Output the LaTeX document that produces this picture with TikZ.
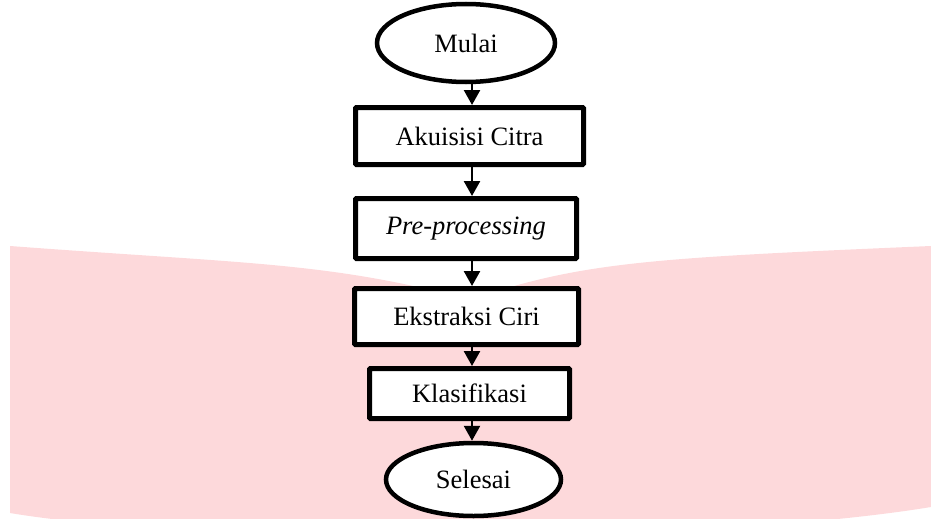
\documentclass[tikz,border=0pt]{standalone}
\usepackage{fontspec}
\setmainfont{Liberation Serif}
\usetikzlibrary{arrows.meta,shapes.geometric}
\definecolor{bgpink}{RGB}{253,217,219}
\begin{document}
\begin{tikzpicture}[x=1pt,y=-1pt,
  every node/.style={font=\fontsize{26.5}{30}\selectfont, inner sep=0pt},
  procbox/.style={draw=black, fill=white, line width=5pt, rectangle, rounded corners=1pt},
  term/.style={draw=black, fill=white, line width=4.5pt, ellipse},
  arr/.style={line width=2.5pt, -{Triangle[width=16pt,length=15pt]}}]
\useasboundingbox (0,0) rectangle (931,519);
\fill[bgpink] (10,246) .. controls (250,264) and (330,262) .. (470,300)
  .. controls (580,262) and (650,258) .. (931,246)
  -- (931,507) .. controls (700,545) and (200,545) .. (10,513) -- cycle;
\node[term, minimum width=178pt, minimum height=78pt] (mulai) at (466,43) {Mulai};
\node[procbox, minimum width=228pt, minimum height=57pt] (akuisisi) at (469.5,136) {Akuisisi Citra};
\node[procbox, minimum width=221pt, minimum height=60pt] (pre) at (466,228.5) {\itshape Pre-processing};
\node[procbox, minimum width=224pt, minimum height=56pt] (ekstraksi) at (466.5,316.5) {Ekstraksi Ciri};
\node[procbox, minimum width=200pt, minimum height=50pt] (klas) at (469.5,393.5) {Klasifikasi};
\node[term, minimum width=175pt, minimum height=73pt] (selesai) at (473.5,479.5) {Selesai};
\coordinate (ax) at (472,0);
\draw[arr] (mulai.south -| ax) -- (akuisisi.north -| ax);
\draw[arr] (akuisisi.south -| ax) -- (pre.north -| ax);
\draw[arr] (pre.south -| ax) -- (ekstraksi.north -| ax);
\draw[arr] (ekstraksi.south -| ax) -- (klas.north -| ax);
\draw[arr] (klas.south -| ax) -- (selesai.north -| ax);
\end{tikzpicture}
\end{document}
